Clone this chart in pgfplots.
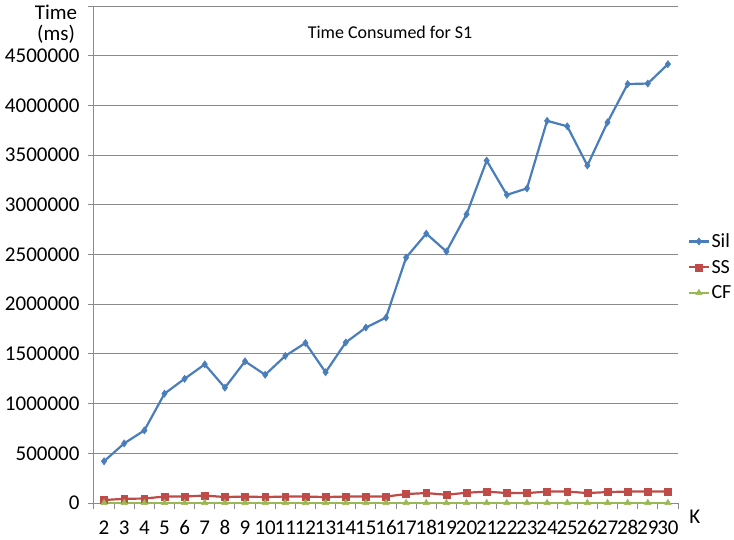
\documentclass[border=0pt]{standalone}
\usepackage{fontspec}
\setmainfont{Carlito}
\usepackage{pgfplots}
\pgfplotsset{compat=1.18}
\definecolor{silc}{HTML}{4A7EBB}
\definecolor{ssc}{HTML}{BE4B48}
\definecolor{cfc}{HTML}{98B954}
\definecolor{gridc}{HTML}{8A8A8A}
\begin{document}
\begin{tikzpicture}
\path[use as bounding box] (0,0) rectangle (734pt,539pt);
\begin{axis}[
  at={(94pt,36pt)}, anchor=south west,
  scale only axis, width=584pt, height=497pt,
  xmin=1.5, xmax=30.5, ymin=0, ymax=5000000,
  axis lines*=left,
  axis line style={gridc, line width=1pt},
  xtick={2,...,30},
  minor xtick={1.5,2.5,...,30.5},
  major x tick style={draw=none},
  minor x tick style={gridc, line width=1pt},
  tick align=outside,
  major tick length=6pt, minor tick length=6pt,
  ytick={0,500000,...,4500000},
  extra y ticks={5000000}, extra y tick labels={},
  extra y tick style={grid=major},
  ymajorgrids,
  major grid style={gridc, line width=1pt},
  major y tick style={gridc, line width=1pt},
  scaled y ticks=false,
  yticklabel style={/pgf/number format/fixed, /pgf/number format/precision=0, /pgf/number format/1000 sep={}, xshift=-5pt},
  /pgf/number format/assume math mode=true,
  tick label style={font=\fontsize{21}{24}\selectfont, text=black},
  xticklabel style={inner xsep=0pt, yshift=-8pt},
  clip=false,
  legend style={draw=none, fill=none, at={(1.0165,0.475)}, anchor=west,
    font=\fontsize{20}{24}\selectfont, row sep=7pt, inner xsep=0pt, inner ysep=0pt,
    nodes={inner xsep=1.5pt}},
  legend cell align=left,
  legend image code/.code={\draw[mark repeat=2,mark phase=2,#1] plot coordinates {(0pt,0pt) (10pt,0pt) (20pt,0pt)};},
]
\addplot[silc, line width=2.2pt, mark=diamond*, mark size=3.6pt, mark options={solid, line width=0.5pt}] coordinates {
(2,420000) (3,600000) (4,730000) (5,1100000) (6,1250000) (7,1395000) (8,1160000) (9,1425000) (10,1290000) (11,1480000) (12,1610000) (13,1315000) (14,1615000) (15,1765000) (16,1865000) (17,2470000) (18,2710000) (19,2530000) (20,2905000) (21,3445000) (22,3100000) (23,3165000) (24,3845000) (25,3790000) (26,3395000) (27,3830000) (28,4215000) (29,4220000) (30,4415000)};
\addlegendentry{Sil}
\addplot[ssc, line width=2.2pt, mark=square*, mark size=3.4pt, mark options={solid, line width=0.5pt}] coordinates {
(2,30000) (3,42000) (4,45000) (5,65000) (6,65000) (7,75000) (8,60000) (9,65000) (10,60000) (11,65000) (12,65000) (13,60000) (14,65000) (15,65000) (16,65000) (17,90000) (18,100000) (19,83000) (20,103000) (21,115000) (22,100000) (23,100000) (24,115000) (25,115000) (26,100000) (27,110000) (28,115000) (29,115000) (30,115000)};
\addlegendentry{SS}
\addplot[cfc, line width=2.2pt, mark=triangle*, mark size=3.6pt, mark options={solid, line width=0.5pt}] coordinates {
(2,2000) (3,2000) (4,2000) (5,2000) (6,2000) (7,2000) (8,2000) (9,2000) (10,2000) (11,2000) (12,2000) (13,2000) (14,2000) (15,2000) (16,2000) (17,2000) (18,2000) (19,2000) (20,2000) (21,2000) (22,2000) (23,2000) (24,2000) (25,2000) (26,2000) (27,2000) (28,2000) (29,2000) (30,2000)};
\addlegendentry{CF}
\node[font=\fontsize{18}{22}\selectfont] at (axis description cs:0.507,0.948) {Time Consumed for S1};
\node[font=\fontsize{21}{21}\selectfont, align=center, inner sep=0pt] at (axis description cs:-0.065,0.963) {Time\\(ms)};
\node[font=\fontsize{21}{24}\selectfont] at (axis description cs:1.029,-0.028) {K};
\end{axis}
\end{tikzpicture}
\end{document}
